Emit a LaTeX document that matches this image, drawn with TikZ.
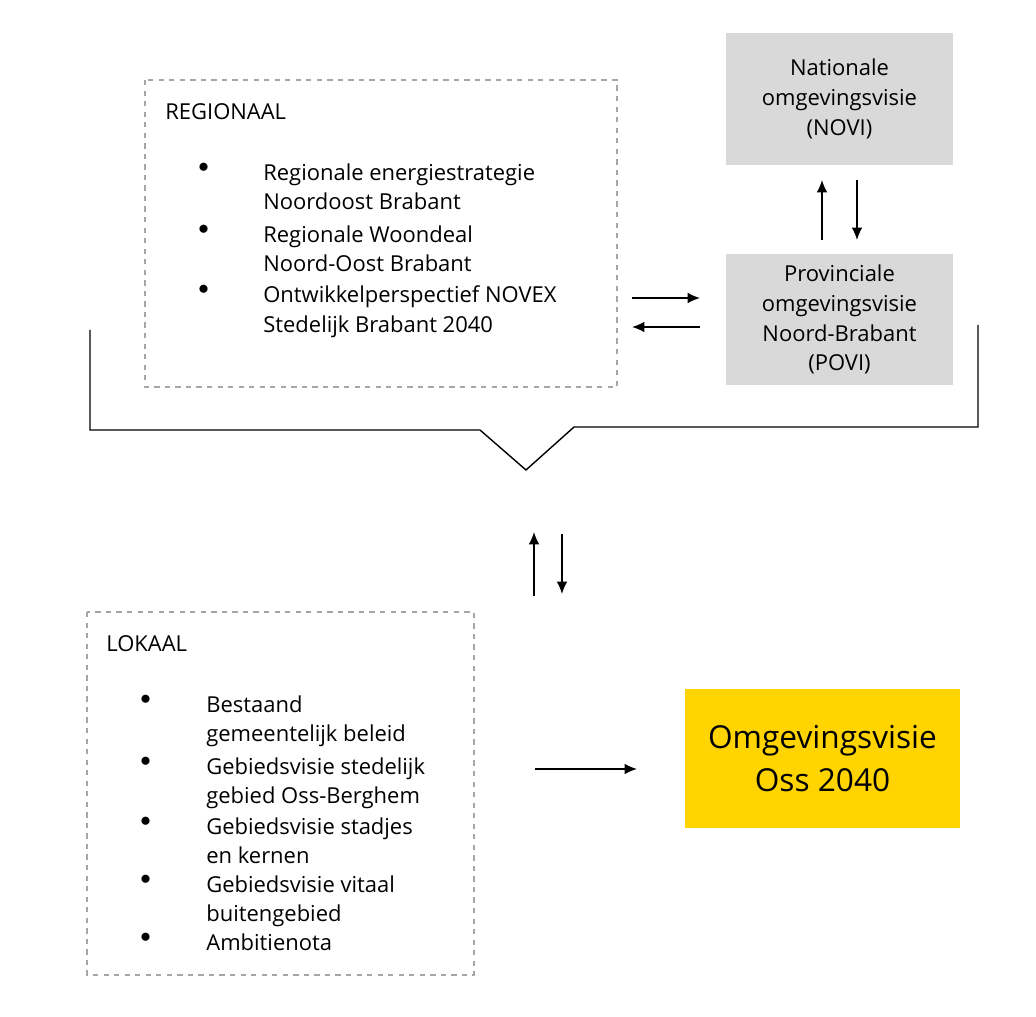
\documentclass[tikz,border=0pt]{standalone}
\usepackage{fontspec}
\setmainfont{Open Sans}
\usetikzlibrary{positioning,arrows.meta}
\definecolor{boxgrey}{HTML}{D9D9D9}
\definecolor{ossyellow}{HTML}{FFD400}
\tikzset{
  frame/.style={draw=gray!70,dashed,thick},
  govbox/.style={fill=boxgrey,minimum width=4.54cm,minimum height=2.64cm,align=center,
    font=\fontsize{12.5}{17}\selectfont},
  txt/.style={anchor=north west,inner sep=0pt,align=left,
    font=\fontsize{12.5}{17}\selectfont},
  dot/.style={anchor=north west,inner sep=0pt,font=\fontsize{12.5}{17}\selectfont},
  flow/.style={-{Latex[length=7pt,width=6pt]},thick}
}
\begin{document}
\begin{tikzpicture}[x=0.02cm,y=-0.02cm]
  \useasboundingbox (0,0) rectangle (1036,1017);

  % regionaal
  \draw[frame] (145,80) rectangle (617,387);
  \node[txt] (regtitle) at (165,103) {REGIONAAL};
  \foreach \y/\t [count=\i] in {163/{Regionale energiestrategie\\Noordoost Brabant},
      225/{Regionale Woondeal\\Noord-Oost Brabant},
      285/{Ontwikkelperspectief NOVEX\\Stedelijk Brabant 2040}}{
    \node[dot] (regdot\i) at (198,\y) {$\bullet$};
    \node[txt] (reg\i) at (263,\y) {\t};
  }

  % nationaal / provinciaal
  \node[govbox] (novi) at (839.5,99) {Nationale\\omgevingsvisie\\(NOVI)};
  \node[govbox] (povi) at (839.5,319.5) {Provinciale\\omgevingsvisie\\Noord-Brabant\\(POVI)};
  \coordinate (n1) at (822,240); \coordinate (n2) at (822,180);
  \coordinate (n3) at (857,180); \coordinate (n4) at (857,240);
  \draw[flow] (n1) -- (n2);
  \draw[flow] (n3) -- (n4);
  \coordinate (r1) at (632,298); \coordinate (r2) at (700,298);
  \coordinate (r3) at (700,327); \coordinate (r4) at (632,327);
  \draw[flow] (r1) -- (r2);
  \draw[flow] (r3) -- (r4);

  % accolade
  \draw[thick] (90,330) -- (90,430) -- (480,430) -- (526,470) -- (574,427) -- (978,427) -- (978,325);

  \coordinate (v1) at (534,596); \coordinate (v2) at (534,532);
  \coordinate (v3) at (562,534); \coordinate (v4) at (562,594);
  \draw[flow] (v1) -- (v2);
  \draw[flow] (v3) -- (v4);

  % lokaal
  \draw[frame] (87,612) rectangle (474,975);
  \node[txt] (loktitle) at (106,635) {LOKAAL};
  \foreach \y/\t [count=\i] in {695/{Bestaand\\gemeentelijk beleid},
      757/{Gebiedsvisie stedelijk\\gebied Oss-Berghem},
      817/{Gebiedsvisie stadjes\\en kernen},
      875/{Gebiedsvisie vitaal\\buitengebied},
      933/{Ambitienota}}{
    \node[dot] (lokdot\i) at (140,\y) {$\bullet$};
    \node[txt] (lok\i) at (206,\y) {\t};
  }

  % omgevingsvisie
  \node[fill=ossyellow,minimum width=5.5cm,minimum height=2.78cm,align=center,
    font=\fontsize{18}{24}\selectfont] (oss) at (822.5,758.5) {Omgevingsvisie\\Oss 2040};
  \coordinate (l1) at (535,769); \coordinate (l2) at (637,769);
  \draw[flow] (l1) -- (l2);
\end{tikzpicture}
\end{document}
